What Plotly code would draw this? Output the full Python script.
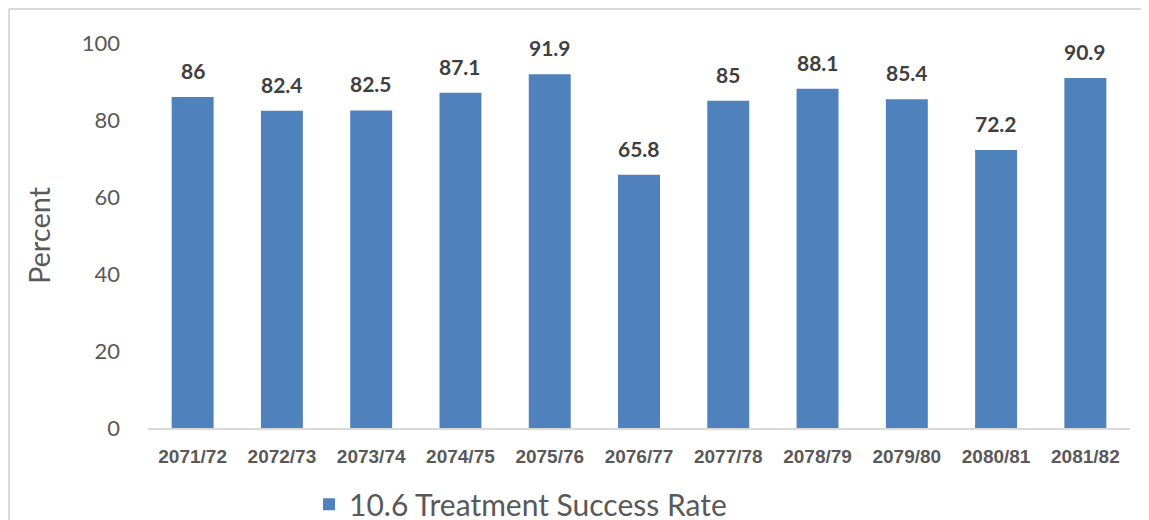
import plotly.graph_objects as go

categories = ["2071/72", "2072/73", "2073/74", "2074/75", "2075/76", "2076/77",
              "2077/78", "2078/79", "2079/80", "2080/81", "2081/82"]
values = [86, 82.4, 82.5, 87.1, 91.9, 65.8, 85, 88.1, 85.4, 72.2, 90.9]
labels = ["86", "82.4", "82.5", "87.1", "91.9", "65.8", "85", "88.1", "85.4", "72.2", "90.9"]
series_name = "10.6 Treatment Success Rate"
y_ticks = [0, 20, 40, 60, 80, 100]

fig = go.Figure()
fig.add_trace(go.Bar(
    x=categories, y=values, name=series_name,
    marker=dict(color="#4f81bd", line=dict(width=0)),
))

for c, v, t in zip(categories, values, labels):
    fig.add_annotation(x=c, y=v, text=t, showarrow=False, yanchor="bottom", yshift=12,
                       font=dict(family="Lato", size=21, color="#404040", weight="bold"))

W, H = 1149, 520
L, R, T, B = 140, 27, 35, 100
fig.update_layout(
    width=W, height=H,
    margin=dict(l=L, r=R, t=T, b=B, autoexpand=False),
    paper_bgcolor="white", plot_bgcolor="white",
    bargap=0.53,
    showlegend=True,
    legend=dict(orientation="h", x=0.164, xanchor="left", y=-0.198, yanchor="middle",
                font=dict(family="Lato", size=30, color="#595959"),
                itemwidth=30),
    xaxis=dict(showgrid=False, showline=True, linecolor="#d9d9d9", linewidth=2,
               ticks="", ticklabelstandoff=10,
               tickfont=dict(family="Liberation Sans", size=19, color="#595959", weight="bold")),
    yaxis=dict(range=[0, 100], tickvals=y_ticks, showgrid=False, showline=False,
               zeroline=False, ticks="", ticklabelstandoff=27,
               tickfont=dict(family="Lato", size=22, color="#595959"),
               title=dict(text="Percent", font=dict(family="Lato", size=29, color="#595959"),
                          standoff=22)),
)

# chart border
pw = W - L - R
ph = H - T - B
def px(x): return (x - L) / pw
def py(y): return (H - B - y) / ph
fig.add_shape(type="line", xref="paper", yref="paper", x0=px(1), x1=px(W), y0=py(1), y1=py(1),
              line=dict(color="#d9d9d9", width=2))
fig.add_shape(type="line", xref="paper", yref="paper", x0=px(1), x1=px(1), y0=py(1), y1=py(H),
              line=dict(color="#d9d9d9", width=2))

fig.write_html("out.html")
